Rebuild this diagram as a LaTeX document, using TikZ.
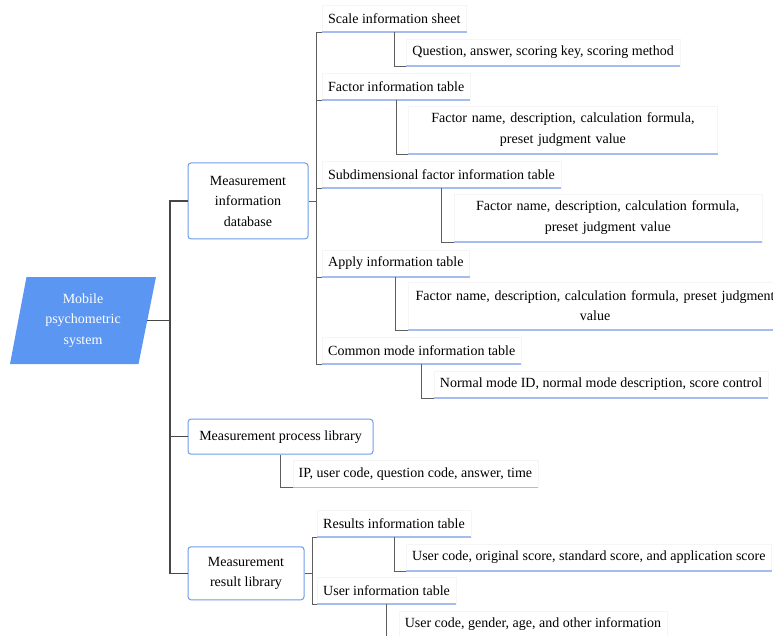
\documentclass[tikz,border=0pt]{standalone}
\usepackage{fontspec}
\setmainfont{Liberation Serif}
\usetikzlibrary{calc}
\definecolor{rootblue}{HTML}{5A96F2}
\definecolor{boxblue}{HTML}{6E9DEA}
\definecolor{lineblue}{HTML}{A3BEEE}
\definecolor{linkgray}{HTML}{5E5E5E}
\definecolor{trunkgray}{HTML}{474747}
\begin{document}
\begin{tikzpicture}[
 x=1pt, y=-1pt,
 font=\rmfamily\fontsize{14}{20.5}\selectfont,
 root/.style={text=white!93,align=center,minimum height=87pt,minimum width=146pt,inner sep=0pt,
   path picture={\fill[rootblue] ($(path picture bounding box.north west)+(16.5,0)$) -- (path picture bounding box.north east)
     -- ($(path picture bounding box.south east)+(-17.5,0)$) -- (path picture bounding box.south west) -- cycle;}},
 box/.style={draw=boxblue,line width=1pt,rounded corners=3pt,fill=white,align=center,inner sep=2pt},
 topic/.style={draw=black!4,anchor=south west,inner xsep=6pt,minimum height=27pt},
 detailtwo/.style={draw=black!4,anchor=south west,align=center,inner xsep=6pt,minimum height=48pt},
 trunk/.style={draw=trunkgray,line width=1.5pt},
 link/.style={draw=linkgray,line width=0.8pt},
 uline/.style={draw=lineblue,line width=1.2pt}
]
\useasboundingbox (0,0) rectangle (773,636);
\node (mps) [root] at (83,320.5) {Mobile\\psychometric\\system};
\node (mid) [box,minimum width=120pt,minimum height=76pt] at (248,201) {Measurement\\information\\database};
\node (mpl) [box,minimum width=185pt,minimum height=35pt] at (280.5,436.7) {Measurement process library};
\node (mrl) [box,minimum width=116pt,minimum height=53pt] at (246,573.3) {Measurement\\result library};
\node (sis) [topic] at (322,32) {Scale information sheet};
\node (fit) [topic] at (322,100) {Factor information table};
\node (sfit) [topic] at (322,188) {Subdimensional factor information table};
\node (ait) [topic] at (322,277) {Apply information table};
\node (cmit) [topic] at (322,364) {Common mode information table};
\node (rit) [topic] at (317,537) {Results information table};
\node (uit) [topic] at (317,604) {User information table};
\node (sisd) [topic] at ($(sis.south)+(12,34)$) {Question, answer, scoring key, scoring method};
\node (fitd) [detailtwo,text width=297pt] at ($(fit.south)+(12,54)$) {Factor name, description, calculation formula,\\preset judgment value};
\node (sfitd) [detailtwo,text width=296pt] at ($(sfit.south)+(12,54)$) {Factor name, description, calculation formula,\\preset judgment value};
\node (aitd) [detailtwo,text width=362pt] at ($(ait.south)+(12,53)$) {Factor name, description, calculation formula, preset judgment\\value};
\node (cmitd) [topic] at ($(cmit.south)+(12,34)$) {Normal mode ID, normal mode description, score control};
\node (mpld) [topic] at ($(mpl.south)+(12,33)$) {IP, user code, question code, answer, time};
\node (ritd) [topic] at ($(rit.south)+(12,34)$) {User code, original score, standard score, and application score};
\node (uitd) [topic] at ($(uit.south)+(12,34)$) {User code, gender, age, and other information};
\foreach \n in {sis,fit,sfit,ait,cmit,rit,uit,sisd,fitd,sfitd,aitd,cmitd,mpld,ritd,uitd}
  \draw[uline] (\n.south west) -- (\n.south east);
\coordinate (trunk) at (170,320.5);
\draw[trunk] ($(mps.east)+(-9,0)$) -- (trunk) |- (mid.west);
\draw[trunk] (trunk) |- (mpl.west);
\draw[trunk] (trunk) |- (mrl.west);
\coordinate (dbar) at (316,201);
\draw[link] (mid.east) -- (dbar);
\foreach \n in {sis,fit,sfit,ait,cmit}
  \draw[link] (dbar) |- (\n.south west);
\coordinate (rbar) at (312,573.3);
\draw[link] (mrl.east) -- (rbar);
\foreach \n in {rit,uit}
  \draw[link] (rbar) |- (\n.south west);
\foreach \p/\c in {sis/sisd,fit/fitd,sfit/sfitd,ait/aitd,cmit/cmitd,mpl/mpld,rit/ritd,uit/uitd}
  \draw[link] (\p.south) |- (\c.south west);
\end{tikzpicture}
\end{document}
